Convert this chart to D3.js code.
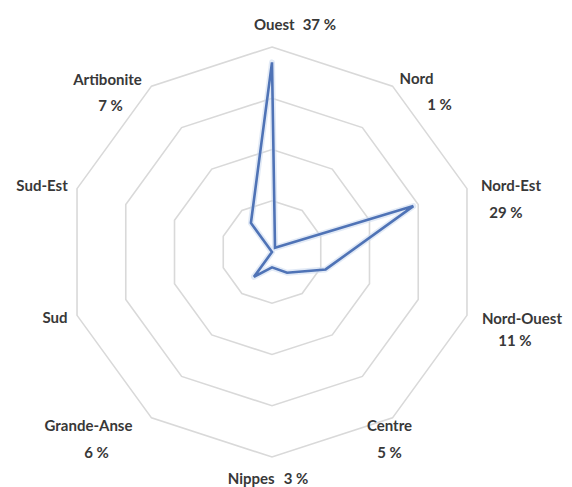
<!DOCTYPE html>
<html>
<head>
<meta charset="utf-8">
<script src="https://cdn.jsdelivr.net/npm/d3@7"></script>
<style>
  body { margin: 0; background: #fff; }
  svg { display: block; }
  .lbl { font-family: Lato, "Open Sans", sans-serif; font-weight: bold; font-size: 15px; fill: #383838; }
</style>
</head>
<body>
<svg class="board" width="572" height="487"></svg>
<script>
// regions of Haiti, clockwise from the top
var categories = ['Ouest', 'Nord', 'Nord-Est', 'Nord-Ouest', 'Centre', 'Nippes', 'Grande-Anse', 'Sud', 'Sud-Est', 'Artibonite'];
var values = [37, 1, 29, 11, 5, 3, 6, 0, 0, 7];
var valueLabels = ['37 %', '1 %', '29 %', '11 %', '5 %', '3 %', '6 %', '', '', '7 %'];
var ticks = [10, 20, 30, 40];

// label placement relative to the outer vertex: [name dx, name dy, value dx, value dy]
// inline = name and value on one line
var labelLayout = [
  {inline: true, dx: 23, dy: -23, gap: 8},
  {nx: 24, ny: -8, vx: 47, vy: 18},
  {nx: 44, ny: -4, vx: 39, vy: 23},
  {nx: 55, ny: 3, vx: 48, vy: 25},
  {nx: -3, ny: 7, vx: -3, vy: 34},
  {inline: true, dx: -4, dy: 21, gap: 9},
  {nx: -63, ny: 7, vx: -55, vy: 34},
  {nx: -22, ny: 2},
  {nx: -35, ny: -4},
  {nx: -44, ny: -7, vx: -41, vy: 19}
];

var cx = 272, cy = 252, R = 205;
var svg = d3.select('.board');
var g = svg.append('g').attr('transform', 'translate(' + cx + ',' + cy + ')');

var r = d3.scaleLinear().domain([0, 40]).range([0, R]);
var angle = d3.scaleLinear().domain([0, categories.length]).range([0, 2 * Math.PI]);

function pt(i, v) {
  var a = angle(i);
  return [Math.sin(a) * r(v), -Math.cos(a) * r(v)];
}

// decagon grid rings
g.selectAll('path.ring')
  .data(ticks)
  .enter().append('path')
    .attr('class', 'ring')
    .attr('d', function(t) {
      return d3.line()(categories.map(function(c, i) { return pt(i, t); })) + 'Z';
    })
    .attr('fill', 'none')
    .attr('stroke', '#d9d9d9')
    .attr('stroke-width', 1.6);

// series line
var line = d3.line()
  .x(function(d, i) { return pt(i, d)[0]; })
  .y(function(d, i) { return pt(i, d)[1]; })
  .curve(d3.curveLinearClosed);

g.append('path')
  .attr('d', line(values))
  .attr('fill', 'none')
  .attr('stroke', '#cfdcf0')
  .attr('stroke-width', 6)
  .attr('stroke-linejoin', 'round')
  .attr('opacity', 0.6);

g.append('path')
  .attr('d', line(values))
  .attr('fill', 'none')
  .attr('stroke', '#4f73b6')
  .attr('stroke-width', 2.6)
  .attr('stroke-linejoin', 'miter');

// category labels
categories.forEach(function(name, i) {
  var v = pt(i, 40);
  var L = labelLayout[i];
  if (L.inline) {
    var t = g.append('text')
      .attr('class', 'lbl')
      .attr('x', v[0] + L.dx)
      .attr('y', v[1] + L.dy)
      .attr('text-anchor', 'middle')
      .attr('dominant-baseline', 'central');
    t.append('tspan').text(name);
    t.append('tspan').attr('dx', L.gap).text(valueLabels[i]);
    return;
  }
  g.append('text')
    .attr('class', 'lbl')
    .attr('x', v[0] + L.nx)
    .attr('y', v[1] + L.ny)
    .attr('text-anchor', 'middle')
    .attr('dominant-baseline', 'central')
    .text(name);
  if (valueLabels[i]) {
    g.append('text')
      .attr('class', 'lbl')
      .attr('x', v[0] + L.vx)
      .attr('y', v[1] + L.vy)
      .attr('text-anchor', 'middle')
      .attr('dominant-baseline', 'central')
      .text(valueLabels[i]);
  }
});
</script>
</body>
</html>
